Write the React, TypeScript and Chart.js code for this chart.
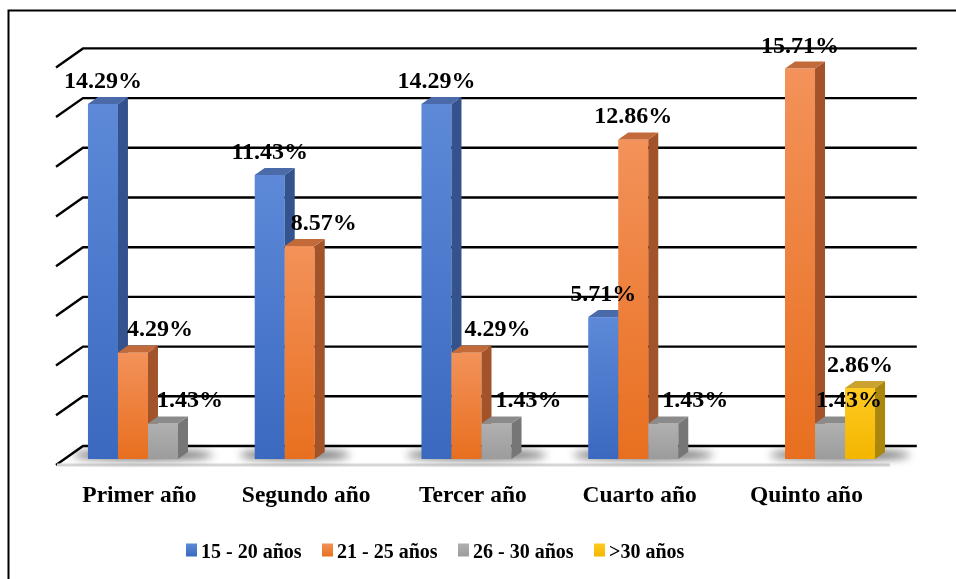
import React, { useEffect, useRef } from "react";
import { Chart, registerables } from "chart.js";

Chart.register(...registerables);

// ---------- data ----------
const categories = ["Primer año", "Segundo año", "Tercer año", "Cuarto año", "Quinto año"];
const seriesNames = ["15 - 20 años", "21 - 25 años", "26 - 30 años", ">30 años"];
const serie15a20 = [14.29, 11.43, 14.29, 5.71, 0];
const serie21a25 = [4.29, 8.57, 4.29, 12.86, 15.71];
const serie26a30 = [1.43, 0, 1.43, 1.43, 1.43];
const serieMas30 = [0, 0, 0, 0, 2.86];
const gridValues = [0, 2, 4, 6, 8, 10, 12, 14, 16];

// ---------- style ----------
const allSeries = [serie15a20, serie21a25, serie26a30, serieMas30];
const palette = [
  { base: "#4472C4", top0: "#5d89d8", bot0: "#3a69bf", side: "#33528e", cap: "#4a6aaa" },
  { base: "#ED7D31", top0: "#f3925a", bot0: "#e86f1f", side: "#a2532a", cap: "#c26a3a" },
  { base: "#A5A5A5", top0: "#b0b0b0", bot0: "#9c9c9c", side: "#767676", cap: "#8b8b8b" },
  { base: "#FFC000", top0: "#ffca22", bot0: "#f3b600", side: "#a9860c", cap: "#c9a230" },
];
// horizontal nudges of value labels (px), per series / category
const labelShift = [
  [0, 0, 0, 0, 0],
  [27, 24, 31, 0, 0],
  [27, 0, 32, 32, 19],
  [0, 0, 0, 0, 0],
];
const FONT = '"Liberation Serif", "Times New Roman", serif';
const BAR_DX = 10, BAR_DY = 7;       // bar depth
const BACK_DX = 18.4, BACK_DY = 13;   // back wall offset from bar plane
const FRONT_DX = 8.6, FRONT_DY = 6;   // floor front edge offset

const threeD = {
  id: "threeD",
  beforeDatasetsDraw(chart: any) {
    const ctx = chart.ctx as CanvasRenderingContext2D;
    const { left, right } = chart.chartArea;
    const ys = chart.scales.y;
    ctx.save();
    // outer border
    ctx.strokeStyle = "#000";
    ctx.lineWidth = 2;
    ctx.beginPath();
    ctx.moveTo(8.5, chart.height + 2);
    ctx.lineTo(8.5, 10.5);
    ctx.lineTo(chart.width + 2, 10.5);
    ctx.stroke();

    // walls / gridlines
    ctx.lineWidth = 2.4;
    ctx.lineCap = "butt";
    for (const v of gridValues) {
      const y = ys.getPixelForValue(v);
      ctx.strokeStyle = "#000";
      ctx.beginPath();
      ctx.moveTo(left - FRONT_DX, y + FRONT_DY);
      ctx.lineTo(left + BACK_DX, y - BACK_DY);
      ctx.lineTo(right + BACK_DX, y - BACK_DY);
      ctx.stroke();
      if (v === 0) {
        ctx.strokeStyle = "#d6d6d6";
        ctx.lineWidth = 3;
        ctx.beginPath();
        ctx.moveTo(left - FRONT_DX + 1, y + FRONT_DY);
        ctx.lineTo(right - FRONT_DX, y + FRONT_DY);
        ctx.stroke();
        ctx.lineWidth = 2.4;
      }
    }

    // shadows under each group
    const n = categories.length;
    const base = ys.getPixelForValue(0);
    for (let c = 0; c < n; c++) {
      let l = Infinity, r = -Infinity;
      allSeries.forEach((s, i) => {
        if (s[c] > 0) {
          const el = chart.getDatasetMeta(i).data[c];
          l = Math.min(l, el.x - el.width / 2);
          r = Math.max(r, el.x + el.width / 2);
        }
      });
      if (l === Infinity) continue;
      const x0 = l - 15, x1 = r + 35;
      ctx.save();
      ctx.filter = "blur(4px)";
      ctx.fillStyle = "rgba(0,0,0,0.6)";
      ctx.beginPath();
      ctx.ellipse((x0 + x1) / 2, base - 4, (x1 - x0) / 2, 5, 0, 0, Math.PI * 2);
      ctx.fill();
      ctx.restore();
    }
    ctx.restore();
  },
  beforeDatasetDraw() {
    return false;
  },
  afterDatasetsDraw(chart: any) {
    const ctx = chart.ctx as CanvasRenderingContext2D;
    const ys = chart.scales.y;
    const xs = chart.scales.x;
    const n = categories.length;
    ctx.save();
    // bars, drawn category by category, series left to right
    for (let c = 0; c < n; c++) {
      allSeries.forEach((s, i) => {
        if (!(s[c] > 0)) return;
        const el = chart.getDatasetMeta(i).data[c];
        const x0 = el.x - el.width / 2, x1 = el.x + el.width / 2;
        const top = el.y, base = el.base;
        const p = palette[i];
        const g = ctx.createLinearGradient(0, top, 0, base);
        g.addColorStop(0, p.top0);
        g.addColorStop(1, p.bot0);
        ctx.fillStyle = g;
        ctx.fillRect(x0, top, x1 - x0, base - top);
        // side
        ctx.fillStyle = p.side;
        ctx.beginPath();
        ctx.moveTo(x1, top);
        ctx.lineTo(x1 + BAR_DX, top - BAR_DY);
        ctx.lineTo(x1 + BAR_DX, base - BAR_DY);
        ctx.lineTo(x1, base);
        ctx.closePath();
        ctx.fill();
        // top
        ctx.fillStyle = p.cap;
        ctx.beginPath();
        ctx.moveTo(x0, top);
        ctx.lineTo(x0 + BAR_DX, top - BAR_DY);
        ctx.lineTo(x1 + BAR_DX, top - BAR_DY);
        ctx.lineTo(x1, top);
        ctx.closePath();
        ctx.fill();
      });
    }
    // value labels
    ctx.fillStyle = "#000";
    ctx.font = `bold 24px ${FONT}`;
    ctx.textAlign = "center";
    ctx.textBaseline = "alphabetic";
    allSeries.forEach((s, i) => {
      s.forEach((v, c) => {
        if (!(v > 0)) return;
        const el = chart.getDatasetMeta(i).data[c];
        ctx.fillText(v.toFixed(2) + "%", el.x + labelShift[i][c], el.y - 16);
      });
    });
    // category labels
    const base = ys.getPixelForValue(0);
    ctx.font = `bold 23.5px ${FONT}`;
    categories.forEach((cat, c) => {
      ctx.fillText(cat, xs.getPixelForValue(c) - FRONT_DX, base + 42.5);
    });
    // legend
    ctx.font = `bold 20px ${FONT}`;
    ctx.textAlign = "left";
    const legY = 557.5;
    seriesNames.forEach((name, i) => {
      const sx = 186 + 136 * i;
      const p = palette[i];
      const g = ctx.createLinearGradient(0, legY - 14, 0, legY - 1);
      g.addColorStop(0, p.top0);
      g.addColorStop(1, p.bot0);
      ctx.fillStyle = g;
      ctx.fillRect(sx, legY - 14, 11, 13);
      ctx.fillStyle = "#000";
      ctx.fillText(name, sx + 15, legY);
    });
    ctx.restore();
  },
};

export default function App() {
  const ref = useRef<HTMLCanvasElement>(null);
  useEffect(() => {
    const canvas = ref.current!;
    const chart = new Chart(canvas, {
      type: "bar",
      data: {
        labels: categories,
        datasets: allSeries.map((d, i) => ({
          label: seriesNames[i],
          data: d,
          backgroundColor: palette[i].base,
          categoryPercentage: 0.72,
          barPercentage: 1,
        })),
      },
      options: {
        responsive: false,
        animation: false,
        devicePixelRatio: 1,
        layout: { padding: { left: 64.6, right: 57.6, top: 61.4, bottom: 120 } },
        plugins: { legend: { display: false }, tooltip: { enabled: false } },
        scales: {
          x: { display: false },
          y: { display: false, min: 0, max: 16 },
        },
      },
      plugins: [threeD],
    } as any);
    return () => chart.destroy();
  }, []);
  return (
    <canvas
      ref={ref}
      width={956}
      height={579}
      style={{ position: "fixed", left: 0, top: 0, width: 956, height: 579, display: "block", background: "#fff" }}
    />
  );
}
